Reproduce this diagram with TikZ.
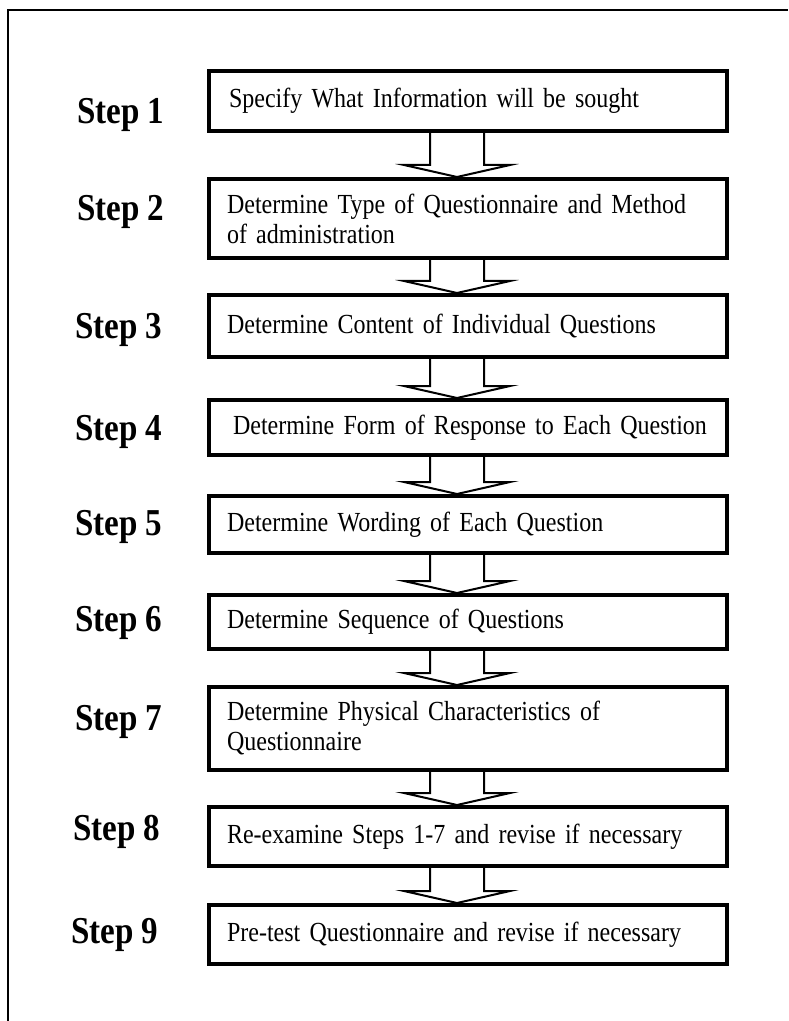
\documentclass[tikz,border=0pt]{standalone}
\usepackage{fontspec}
\setmainfont{Liberation Serif}
\newfontfamily\tallserif{Liberation Serif}[FakeStretch=0.87, WordSpace=0.87]
\usetikzlibrary{calc}
\tikzset{
  stepbox/.style={draw, line width=2pt, minimum width=259pt, text width=241pt,
    inner xsep=9pt, inner ysep=0pt, align=left, font=\tallserif\fontsize{13.8}{15}\selectfont},
  steplabel/.style={anchor=west, inner sep=0pt, font=\tallserif\fontsize{19}{21}\selectfont\bfseries},
  blockarrow/.style={line width=1pt, line join=miter}
}

\begin{document}
\begin{tikzpicture}[x=0.5pt, y=-0.5pt]
    \useasboundingbox (0,0) rectangle (788,1021);
    \draw[line width=1pt] (8,1021) -- (8,10) -- (788,10);

    % the nine boxes
    \node[stepbox, minimum height=30pt] (s1) at (468,101) {\hspace{1pt}Specify What Information will be sought};
    \node[stepbox, minimum height=39.5pt] (s2) at (468,218.5) {Determine Type of Questionnaire and Method\\of administration};
    \node[stepbox, minimum height=31pt] (s3) at (468,326) {Determine Content of Individual Questions};
    \node[stepbox, minimum height=27.5pt] (s4) at (468,427.5) {\hspace{3pt}Determine Form of Response to Each Question};
    \node[stepbox, minimum height=28.5pt] (s5) at (468,524.5) {Determine Wording of Each Question};
    \node[stepbox, minimum height=27pt] (s6) at (468,622) {Determine Sequence of Questions};
    \node[stepbox, minimum height=41.5pt] (s7) at (468,728.5) {Determine Physical Characteristics of\\Questionnaire};
    \node[stepbox, minimum height=29.5pt] (s8) at (468,836.5) {Re-examine Steps 1-7 and revise if necessary};
    \node[stepbox, minimum height=29.5pt] (s9) at (468,934.5) {Pre-test Questionnaire and revise if necessary};

    % step labels
    \node[steplabel] (l1) at (77,115) {Step 1};
    \node[steplabel] (l2) at (77,212) {Step 2};
    \node[steplabel] (l3) at (75,330) {Step 3};
    \node[steplabel] (l4) at (75,432) {Step 4};
    \node[steplabel] (l5) at (75,527) {Step 5};
    \node[steplabel] (l6) at (75,623) {Step 6};
    \node[steplabel] (l7) at (75,722) {Step 7};
    \node[steplabel] (l8) at (73,832) {Step 8};
    \node[steplabel] (l9) at (71,935) {Step 9};

    % hollow arrows between boxes
    \foreach \a/\b in {s1/s2, s2/s3, s3/s4, s4/s5, s5/s6, s6/s7, s7/s8, s8/s9}
        \draw[blockarrow] ($(\a.south)+(-38,0)$) -- ($(\b.north)+(-38,-12)$)
            -- ($(\b.north)+(-64,-12)$) -- ($(\b.north)+(-11,0)$)
            -- ($(\b.north)+(42,-12)$) -- ($(\b.north)+(16,-12)$)
            -- ($(\a.south)+(16,0)$);
\end{tikzpicture}
\end{document}
